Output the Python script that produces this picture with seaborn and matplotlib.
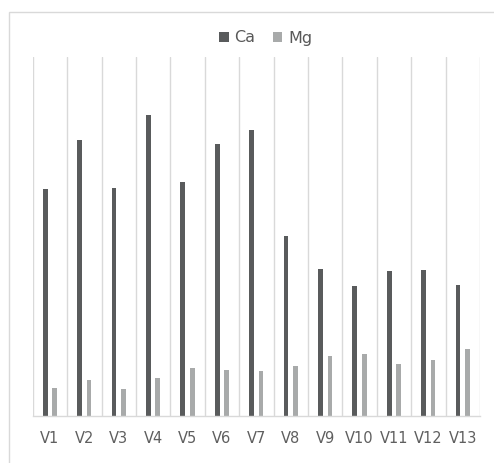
import numpy as np
import pandas as pd
import matplotlib
matplotlib.use("Agg")
import matplotlib.pyplot as plt
import seaborn as sns
from matplotlib.patches import Rectangle

# --- data (arbitrary units, no value axis shown) ---
sites = ["V1", "V2", "V3", "V4", "V5", "V6", "V7", "V8", "V9", "V10", "V11", "V12", "V13"]
ca = [227, 276, 228, 301, 234, 272, 286, 180, 147, 130, 145, 146, 131]
mg = [28, 36, 27, 38, 48, 46, 45, 50, 60, 62, 52, 56, 67]
elements = ["Ca", "Mg"]
colors = ["#595b5c", "#a8aaaa"]

df = pd.DataFrame({
    "site": sites * 2,
    "value": ca + mg,
    "element": ["Ca"] * len(sites) + ["Mg"] * len(sites),
})

sns.set_theme(style="white")
plt.rcParams["font.family"] = ["DejaVu Sans"]

W, H = 494, 463
fig = plt.figure(figsize=(W / 100, H / 100), dpi=100)
ax = fig.add_axes([32.7 / W, 1 - 416 / H, (480 - 32.7) / W, (416 - 57) / H])

sns.barplot(data=df, x="site", y="value", hue="element", hue_order=elements,
            palette=colors, width=0.55, gap=0.5, saturation=1,
            linewidth=0, ax=ax, legend=True)

ax.set_xlim(-0.5, len(sites) - 0.5)
ax.set_ylim(0, 359)
ax.set_xlabel("")
ax.set_ylabel("")
ax.set_yticks([])

# category separators
ax.set_xticks(np.arange(-0.5, len(sites)), minor=True)
ax.grid(which="minor", axis="x", color="#d9d9d9", linewidth=1)
ax.grid(which="major", visible=False)
ax.set_axisbelow(True)
ax.tick_params(axis="x", which="both", length=0)
ax.tick_params(axis="x", which="major", pad=11, labelsize=10.5, labelcolor="#5f5f5f")

for side in ["top", "left", "right"]:
    ax.spines[side].set_visible(False)
ax.spines["bottom"].set_color("#d9d9d9")
ax.spines["bottom"].set_linewidth(1)

# legend on top
handles, labels = ax.get_legend_handles_labels()
ax.legend_.remove()
fig.legend(handles, labels, loc="center", bbox_to_anchor=(265.5 / W, 1 - 38 / H),
           ncol=2, frameon=False, handlelength=0.6, handleheight=0.6,
           handletextpad=0.35, columnspacing=1.1,
           prop={"size": 11.5}, labelcolor="#595959")

# chart area border (runs past the right and bottom edge of the crop)
fig.patches.append(Rectangle((8.7 / W, -0.1), 1.2, 1 - 11.7 / H + 0.1,
                             transform=fig.transFigure, fill=False,
                             edgecolor="#d9d9d9", linewidth=1, clip_on=False))

fig.savefig("out.png", dpi=100)
